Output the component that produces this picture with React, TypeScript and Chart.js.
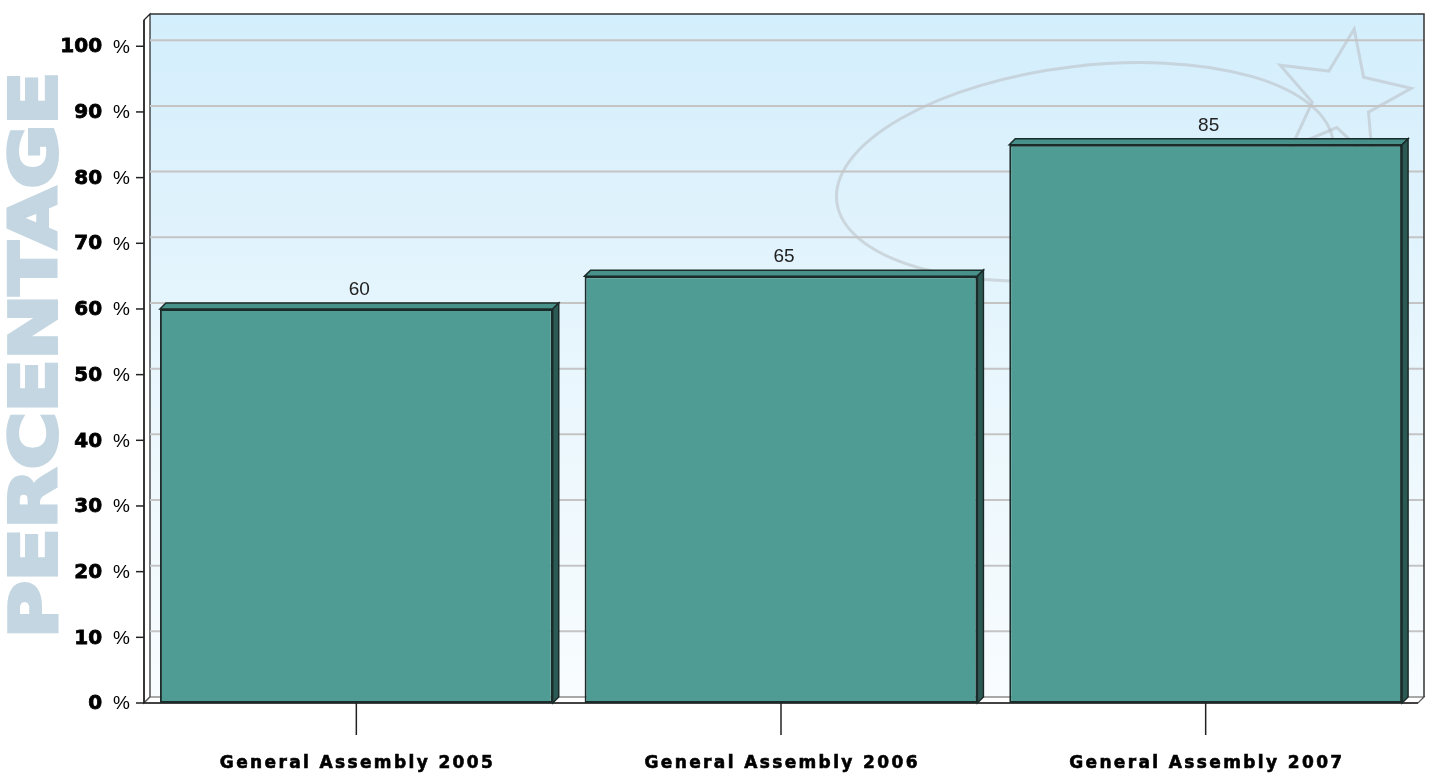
import React, { useEffect, useRef } from "react";
import { Chart, registerables } from "chart.js";

Chart.register(...registerables);

const categories = ["General Assembly 2005", "General Assembly 2006", "General Assembly 2007"];
const values = [60, 65, 85];
const yTickValues = [0, 10, 20, 30, 40, 50, 60, 70, 80, 90, 100];
const yTitle = "PERCENTAGE";

const DEPTH = 6;

const decorPlugin = {
  id: "decor3d",
  beforeDatasetsDraw(chart: any) {
    const ctx = chart.ctx as CanvasRenderingContext2D;
    const { left, right, top, bottom } = chart.chartArea;
    const yS = chart.scales.y;
    const d = DEPTH;
    ctx.save();
    // back wall
    const g = ctx.createLinearGradient(0, top - d, 0, bottom - d);
    g.addColorStop(0, "#d3eefc");
    g.addColorStop(0.5, "#e8f6fd");
    g.addColorStop(1, "#f8fcfe");
    ctx.fillStyle = g;
    ctx.fillRect(left + d, top - d, right - left, bottom - top);

    // watermark
    ctx.strokeStyle = "rgba(185,190,195,0.55)";
    ctx.lineWidth = 3;
    ctx.beginPath();
    ctx.ellipse(1085, 172, 250, 106, -0.12, 0, Math.PI * 2);
    ctx.stroke();
    ctx.beginPath();
    const cx = 1342, cy = 98, ro = 70, ri = 30;
    for (let i = 0; i < 10; i++) {
      const ang = ((-80 + i * 36) * Math.PI) / 180;
      const r = i % 2 === 0 ? ro : ri;
      const px = cx + r * Math.cos(ang);
      const py = cy + r * Math.sin(ang);
      if (i === 0) ctx.moveTo(px, py);
      else ctx.lineTo(px, py);
    }
    ctx.closePath();
    ctx.stroke();

    // left wall
    ctx.fillStyle = "#ffffff";
    ctx.strokeStyle = "#222";
    ctx.lineWidth = 1.2;
    ctx.beginPath();
    ctx.moveTo(left, top);
    ctx.lineTo(left + d, top - d);
    ctx.lineTo(left + d, bottom - d);
    ctx.lineTo(left, bottom);
    ctx.closePath();
    ctx.fill();
    ctx.stroke();
    // floor
    ctx.beginPath();
    ctx.moveTo(left, bottom);
    ctx.lineTo(left + d, bottom - d);
    ctx.lineTo(right + d, bottom - d);
    ctx.lineTo(right, bottom);
    ctx.closePath();
    ctx.fill();
    ctx.strokeStyle = "#555";
    ctx.stroke();

    // gridlines
    ctx.strokeStyle = "#c4c4c4";
    ctx.lineWidth = 2;
    for (const v of yTickValues) {
      if (v === 0) continue;
      const y = yS.getPixelForValue(v);
      ctx.beginPath();
      ctx.moveTo(left + d, y - d);
      ctx.lineTo(right + d, y - d);
      ctx.stroke();
    }
    // back wall outline top/right
    ctx.strokeStyle = "#333";
    ctx.lineWidth = 1.5;
    ctx.beginPath();
    ctx.moveTo(left + d, top - d);
    ctx.lineTo(right + d, top - d);
    ctx.lineTo(right + d, bottom - d);
    ctx.stroke();
    // front axis line
    ctx.strokeStyle = "#222";
    ctx.lineWidth = 1.5;
    ctx.beginPath();
    ctx.moveTo(left, top);
    ctx.lineTo(left, bottom);
    ctx.lineTo(right, bottom);
    ctx.stroke();

    // y ticks & labels
    ctx.textBaseline = "middle";
    for (const v of yTickValues) {
      const y = yS.getPixelForValue(v);
      ctx.strokeStyle = "#222";
      ctx.lineWidth = 1.5;
      ctx.beginPath();
      ctx.moveTo(left - 8, y);
      ctx.lineTo(left, y);
      ctx.stroke();
      ctx.textAlign = "right";
      ctx.fillStyle = "#000";
      ctx.font = "19px 'Liberation Sans', Arial, sans-serif";
      const pct = "%";
      const rx = 130;
      ctx.fillText(pct, rx, y + 1);
      const pw = ctx.measureText(pct).width;
      ctx.font = "bold 20px 'DejaVu Sans', Verdana, sans-serif";
      ctx.strokeStyle = "#000";
      ctx.lineWidth = 0.8;
      ctx.strokeText(String(v), rx - pw - 11, y + 1);
      ctx.fillText(String(v), rx - pw - 11, y + 1);
    }

    // x ticks & labels
    const xS = chart.scales.x;
    for (let i = 0; i < categories.length; i++) {
      const x = xS.getPixelForValue(i);
      ctx.strokeStyle = "#222";
      ctx.lineWidth = 1.5;
      ctx.beginPath();
      ctx.moveTo(x, bottom);
      ctx.lineTo(x, bottom + 32);
      ctx.stroke();
      ctx.font = "bold 17px 'DejaVu Sans', Verdana, sans-serif";
      (ctx as any).letterSpacing = "0px";
      const w = ctx.measureText(categories[i]).width;
      const ls = Math.max(0, (273 - w) / (categories[i].length - 1));
      (ctx as any).letterSpacing = ls + "px";
      ctx.textAlign = "left";
      ctx.fillStyle = "#000";
      ctx.strokeStyle = "#000";
      ctx.lineWidth = 0.6;
      ctx.strokeText(categories[i], x - 273 / 2, bottom + 61);
      ctx.fillText(categories[i], x - 273 / 2, bottom + 61);
      (ctx as any).letterSpacing = "0px";
    }

    // y title
    ctx.save();
    ctx.translate(36, 355);
    ctx.rotate(-Math.PI / 2);
    ctx.font = "bold 64px 'DejaVu Sans', Verdana, sans-serif";
    const tw = ctx.measureText(yTitle).width;
    ctx.scale(566 / tw, 1);
    ctx.textAlign = "center";
    ctx.textBaseline = "middle";
    ctx.fillStyle = "#c3d6e1";
    ctx.strokeStyle = "#c3d6e1";
    ctx.lineWidth = 4;
    ctx.lineJoin = "miter";
    ctx.strokeText(yTitle, 0, 3);
    ctx.fillText(yTitle, 0, 3);
    ctx.restore();
    ctx.restore();
  },
  afterDatasetsDraw(chart: any) {
    const ctx = chart.ctx as CanvasRenderingContext2D;
    const d = DEPTH;
    const meta = chart.getDatasetMeta(0);
    ctx.save();
    meta.data.forEach((el: any, i: number) => {
      const x1 = el.x - el.width / 2;
      const x2 = el.x + el.width / 2;
      const t = el.y;
      const b = el.base;
      ctx.strokeStyle = "#1b2b29";
      ctx.lineWidth = 1.5;
      ctx.fillStyle = "#47918a";
      ctx.beginPath();
      ctx.moveTo(x1, t);
      ctx.lineTo(x1 + d, t - d);
      ctx.lineTo(x2 + d, t - d);
      ctx.lineTo(x2, t);
      ctx.closePath();
      ctx.fill();
      ctx.stroke();
      ctx.fillStyle = "#2b5a55";
      ctx.beginPath();
      ctx.moveTo(x2, t);
      ctx.lineTo(x2 + d, t - d);
      ctx.lineTo(x2 + d, b - d);
      ctx.lineTo(x2, b);
      ctx.closePath();
      ctx.fill();
      ctx.stroke();
      ctx.fillStyle = "#222";
      ctx.font = "19px 'Liberation Sans', Arial, sans-serif";
      ctx.textAlign = "center";
      ctx.textBaseline = "middle";
      ctx.fillText(String(values[i]), el.x + 3, t - d - 13);
    });
    ctx.restore();
  },
};

export default function App() {
  const ref = useRef<HTMLCanvasElement>(null);
  useEffect(() => {
    if (!ref.current) return;
    const chart = new Chart(ref.current, {
      type: "bar",
      data: {
        labels: categories,
        datasets: [
          {
            data: values,
            backgroundColor: "#4f9c94",
            borderColor: "#1b2b29",
            borderWidth: 2,
            borderSkipped: false,
            barPercentage: 0.925,
            categoryPercentage: 1,
          },
        ],
      },
      options: {
        responsive: false,
        animation: false,
        devicePixelRatio: 1,
        layout: { padding: { left: 144, right: 15, top: 20, bottom: 73 } },
        plugins: { legend: { display: false }, tooltip: { enabled: false }, title: { display: false } },
        scales: {
          x: { display: false, offset: true },
          y: { display: false, min: 0, max: 104 },
        },
      },
      plugins: [decorPlugin],
    });
    return () => chart.destroy();
  }, []);
  return (
    <div style={{ position: "fixed", left: 0, top: 0, width: 1433, height: 776, background: "#fff" }}>
      <canvas ref={ref} width={1433} height={776} style={{ display: "block" }} />
    </div>
  );
}
